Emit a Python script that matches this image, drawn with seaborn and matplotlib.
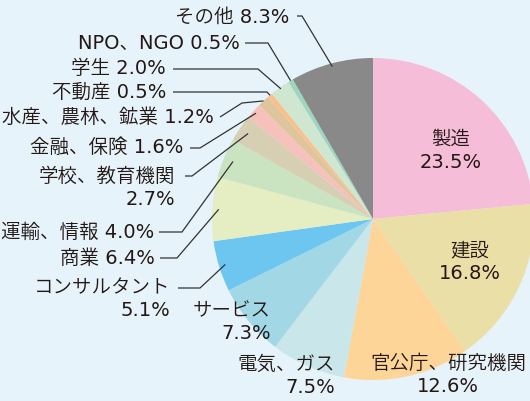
import matplotlib
matplotlib.use("Agg")
import matplotlib.pyplot as plt
import numpy as np
import seaborn as sns

# share of graduates by sector (%), clockwise from 12 o'clock
categories = ["製造", "建設", "官公庁、研究機関", "電気、ガス", "サービス", "コンサルタント",
              "商業", "運輸、情報", "学校、教育機関", "金融、保険", "水産、農林、鉱業",
              "不動産", "学生", "NPO、NGO", "その他"]
shares = [23.5, 16.8, 12.6, 7.5, 7.3, 5.1, 6.4, 4.0, 2.7, 1.6, 1.2, 0.5, 2.0, 0.5, 8.3]
colors = ["#F5BDD7", "#EBDFA8", "#FDD598", "#C9E7EA", "#A2D8E5", "#6CC6F0",
          "#E5EEC2", "#CAE3C0", "#D7CFB3", "#F6C0BB", "#DFC59C",
          "#FBBF8C", "#CFE7D0", "#9DD6BE", "#898989"]
two_line = {"製造", "建設", "官公庁、研究機関", "電気、ガス", "サービス",
            "コンサルタント", "学校、教育機関"}

bg = "#E6F3FA"
W, H = 530, 401
CX, CY, R = 373, 219, 161   # pie centre and radius in pixels


def px(x, y):
    return (x - CX) / R, (CY - y) / R


# label anchor (pixel x, pixel y of block centre, alignment)
label_pos = {
    "製造": (451, 151, "center"),
    "建設": (470, 262, "center"),
    "官公庁、研究機関": (448, 375, "center"),
    "電気、ガス": (335, 376, "right"),
    "サービス": (271, 322, "right"),
    "コンサルタント": (170, 299, "right"),
    "商業": (155, 258, "right"),
    "運輸、情報": (154, 232, "right"),
    "学校、教育機関": (175, 188, "right"),
    "金融、保険": (183, 147, "right"),
    "水産、農林、鉱業": (214, 117, "right"),
    "不動産": (166, 92, "right"),
    "学生": (166, 69, "right"),
    "NPO、NGO": (240, 43, "right"),
    "その他": (289, 17, "right"),
}
# leader lines: start, bend (pixels), radius where it touches the wedge
leaders = {
    "その他": ((297, 16), (302, 16), 0.98),
    "NPO、NGO": ((245, 43), (268, 43), 1.0),
    "学生": ((173, 69), (258, 69), 0.99),
    "不動産": ((173, 92), (267, 92), 1.0),
    "水産、農林、鉱業": ((220, 117), (242, 103), 1.0),
    "金融、保険": ((190, 148), (200, 148), 0.98),
    "学校、教育機関": ((185, 176), (192, 176), 0.94),
    "運輸、情報": ((159, 232), (182, 232), 0.94),
    "商業": ((160, 258), (177, 258), 0.96),
    "コンサルタント": ((178, 288), (200, 288), 0.96),
}

sns.set_style("white")
# DejaVu for the wide latin digits, Noto CJK for the Japanese
plt.rcParams["font.family"] = ["DejaVu Sans", "Noto Sans CJK JP"]

fig = plt.figure(figsize=(W / 100, H / 100), dpi=100, facecolor=bg)
ax = fig.add_axes([0, 0, 1, 1])
wedges, _ = ax.pie(shares, colors=colors, startangle=90, counterclock=False,
                   wedgeprops=dict(linewidth=0))
ax.set_xlim(-CX / R, (W - CX) / R)
ax.set_ylim(-(H - CY) / R, CY / R)
ax.axis("off")

for name, pct, w in zip(categories, shares, wedges):
    sep = "\n" if name in two_line else " "
    x, y, ha = label_pos[name]
    tx, ty = px(x, y)
    ax.text(tx, ty, f"{name}{sep}{pct:.1f}%", ha=ha, va="center", multialignment=ha,
            fontsize=14, color="#231815", linespacing=1.25, fontweight=340)
    if name in leaders:
        (sx, sy), (bx, by), r = leaders[name]
        ang = np.deg2rad((w.theta1 + w.theta2) / 2)
        ex, ey = r * np.cos(ang), r * np.sin(ang)
        p0, p1 = px(sx, sy), px(bx, by)
        ax.plot([p0[0], p1[0], ex], [p0[1], p1[1], ey], color="#333333", lw=0.9,
                solid_capstyle="butt")

fig.savefig("out.png", dpi=100, facecolor=bg)
